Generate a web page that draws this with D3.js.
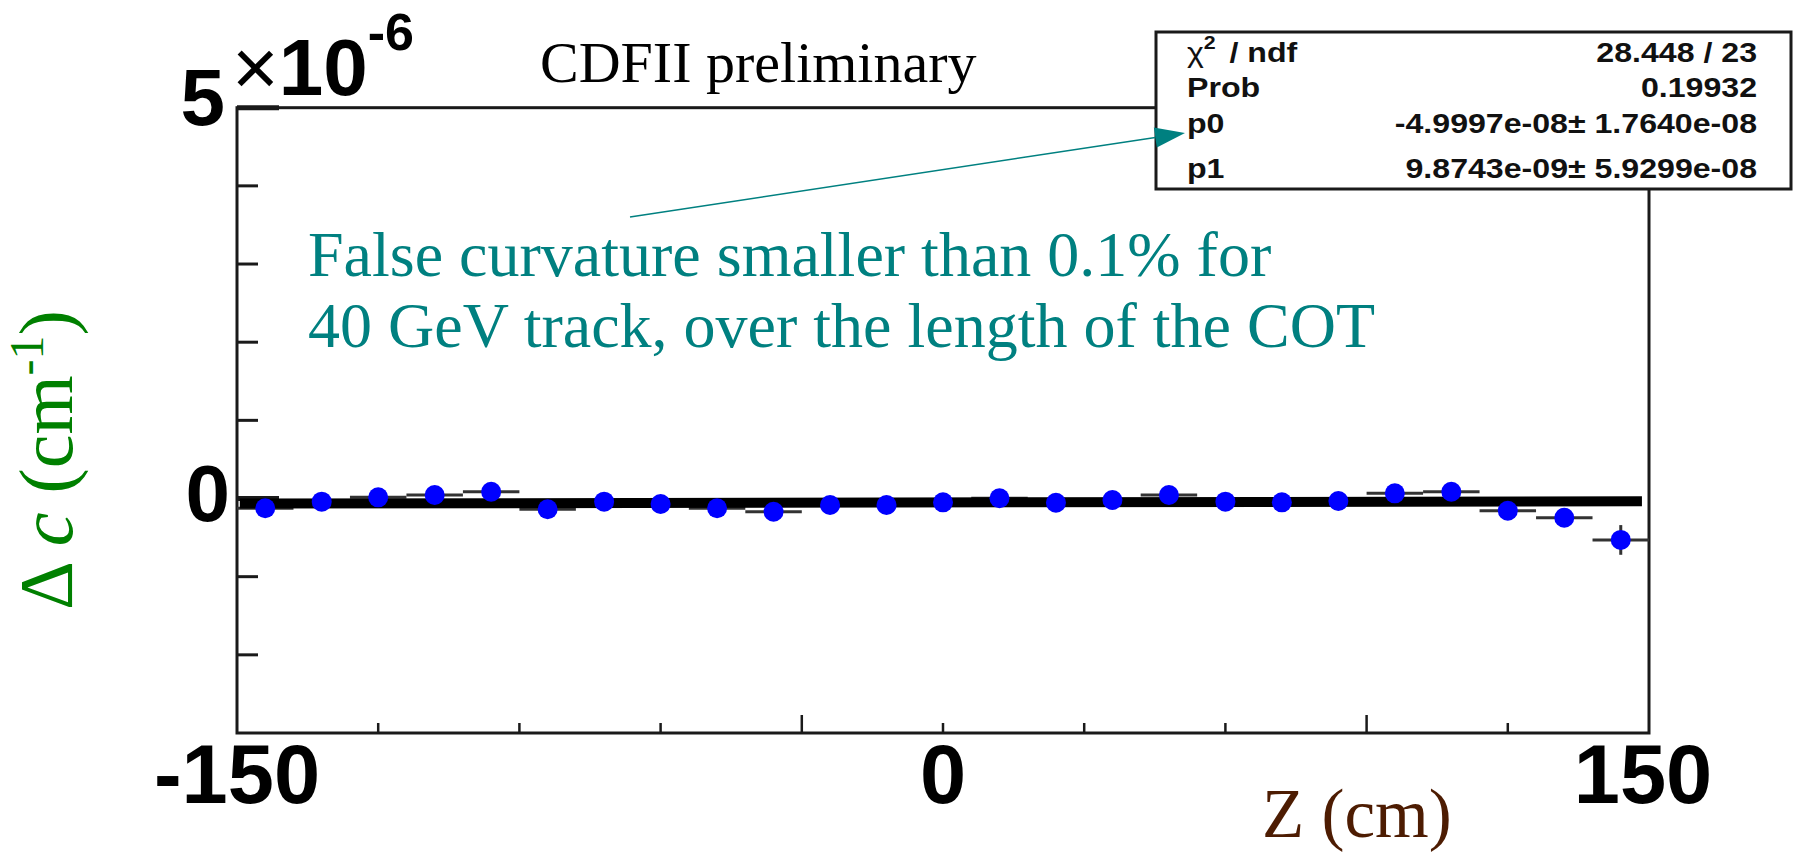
<!DOCTYPE html>
<html><head><meta charset="utf-8">
<script src="https://cdn.jsdelivr.net/npm/d3@7"></script>
<style>body{margin:0;background:#fff}svg{display:block}</style>
</head><body>
<svg id="c" width="1800" height="852"></svg>
<script>
// ---- data (Δc in units of 1e-6 cm^-1) ----
const binCenters = [-144,-132,-120,-108,-96,-84,-72,-60,-48,-36,-24,-12,0,12,24,36,48,60,72,84,96,108,120,132,144];
const deltaC    = [-0.125,-0.04,0.015,0.045,0.087,-0.138,-0.04,-0.07,-0.125,-0.169,-0.083,-0.083,-0.049,0.003,-0.054,-0.019,0.045,-0.04,-0.049,-0.032,0.066,0.087,-0.156,-0.246,-0.53];
const deltaCErr = [0.07,0.06,0.06,0.06,0.06,0.06,0.06,0.06,0.06,0.06,0.06,0.06,0.06,0.06,0.06,0.06,0.06,0.06,0.06,0.06,0.06,0.07,0.08,0.1,0.19];
const binHalfWidth = 6;
const fitP0 = -4.9997e-08, fitP1 = 9.8743e-09;
const xTickValues = [-120,-90,-60,-30,0,30,60,90,120];
const xLongTicks = [-30, 90];
const xLabelValues = [-150, 0, 150];
const yTickValues = [-2,-1,0,1,2,3,4,5];
const yLongTicks = [0, 5];
const statsLabels = ["χ2 / ndf", "Prob", "p0", "p1"];
const statsValues = ["28.448 / 23", "0.19932", "-4.9997e-08± 1.7640e-08", "9.8743e-09± 5.9299e-08"];
const noteLines = ["False curvature smaller than 0.1% for", "40 GeV track, over the length of the COT"];

// ---- layout ----
const svg = d3.select("#c");
const L = 237, R = 1649, T = 107.7, B = 733;
const x = d3.scaleLinear().domain([-150, 150]).range([L, R]);
const y = d3.scaleLinear().domain([-3, 5]).range([B, T]);
const frameColor = "#1a1a1a";

// ticks
const gx = svg.append("g");
gx.selectAll("line").data(xTickValues).join("line")
  .attr("x1", d => x(d)).attr("x2", d => x(d))
  .attr("y1", B).attr("y2", d => B - (xLongTicks.includes(d) ? 18 : 10))
  .attr("stroke", frameColor).attr("stroke-width", 2.5);
const gy = svg.append("g");
gy.selectAll("line").data(yTickValues).join("line")
  .attr("x1", L).attr("x2", d => L + (yLongTicks.includes(d) ? 42 : 21))
  .attr("y1", d => y(d)).attr("y2", d => y(d))
  .attr("stroke", frameColor).attr("stroke-width", d => yLongTicks.includes(d) ? 5 : 3);

// frame
svg.append("rect").attr("x", L).attr("y", T).attr("width", R - L).attr("height", B - T)
  .attr("fill", "none").attr("stroke", frameColor).attr("stroke-width", 3);

// error bars
const eb = svg.append("g").attr("stroke", "#333").attr("stroke-width", 3);
binCenters.forEach((z, i) => {
  eb.append("line").attr("x1", x(z - binHalfWidth)).attr("x2", x(z + binHalfWidth))
    .attr("y1", y(deltaC[i])).attr("y2", y(deltaC[i]));
  eb.append("line").attr("x1", x(z)).attr("x2", x(z))
    .attr("y1", y(deltaC[i] - deltaCErr[i])).attr("y2", y(deltaC[i] + deltaCErr[i]));
});

// fit line (pol1)
const fitLine = d3.line().x(d => x(d)).y(d => y((fitP0 + fitP1 * d / 100) * 1e6));
svg.append("path").datum([-149.4, 148.5]).attr("d", fitLine)
  .attr("stroke", "#000").attr("stroke-width", 10).attr("fill", "none");

// markers
svg.append("g").selectAll("circle").data(binCenters).join("circle")
  .attr("cx", d => x(d)).attr("cy", (d, i) => y(deltaC[i])).attr("r", 10)
  .attr("fill", "#0000ff");

// big axis labels
const bold = "'Liberation Sans', Arial, sans-serif";
svg.append("g").selectAll("text").data(xLabelValues).join("text")
  .attr("x", d => x(d) - (d > 0 ? 6 : 0)).attr("y", 803)
  .attr("text-anchor", "middle").attr("font-family", bold).attr("font-weight", "bold")
  .attr("font-size", 83).attr("fill", "#000").text(d => d);
svg.append("text").attr("x", 230).attr("y", y(0) + 22).attr("text-anchor", "end")
  .attr("font-family", bold).attr("font-weight", "bold").attr("font-size", 80).text("0");
svg.append("text").attr("x", 225).attr("y", 125).attr("text-anchor", "end")
  .attr("font-family", bold).attr("font-weight", "bold").attr("font-size", 80).text("5");
const exp = svg.append("text").attr("x", 232).attr("y", 95)
  .attr("font-family", bold).attr("font-size", 80);
exp.append("tspan").attr("font-weight", "normal").text("×");
exp.append("tspan").attr("font-weight", "bold").text("10");
exp.append("tspan").attr("font-weight", "bold").attr("font-size", 52).attr("dy", -45).text("-6");

// axis titles
const serif = "'Liberation Serif', 'Times New Roman', serif";
svg.append("text").attr("x", 1262).attr("y", 837).attr("font-family", serif)
  .attr("font-size", 69).attr("fill", "#4d1c02").text("Z (cm)");
const yt = svg.append("text").attr("transform", "translate(72,610) rotate(-90)")
  .attr("font-family", serif).attr("font-size", 76).attr("fill", "#008000");
yt.append("tspan").text("Δ ");
yt.append("tspan").attr("font-style", "italic").text("c");
yt.append("tspan").text(" (cm");
yt.append("tspan").attr("font-size", 48).attr("dy", -29).text("-1");
yt.append("tspan").attr("dy", 29).text(")");

// title
svg.append("text").attr("x", 540).attr("y", 82).attr("font-family", serif)
  .attr("font-size", 58).attr("fill", "#000").text("CDFII preliminary");

// teal note
const teal = "#008080";
svg.append("g").selectAll("text").data(noteLines).join("text")
  .attr("x", 308).attr("y", (d, i) => 276 + i * 70.7)
  .attr("font-family", serif).attr("font-size", 64).attr("fill", teal).text(d => d);

// stats box
svg.append("rect").attr("x", 1156).attr("y", 32).attr("width", 1791 - 1156).attr("height", 189 - 32)
  .attr("fill", "#fff").attr("stroke", "#1a1a1a").attr("stroke-width", 3);
const rowBase = [62, 97, 133, 178];
const sx = 1.19;
statsLabels.forEach((lab, i) => {
  const t = svg.append("text").attr("transform", `translate(1187,${rowBase[i]}) scale(${sx},1)`)
    .attr("font-family", bold).attr("font-weight", "bold").attr("font-size", 27).attr("fill", "#111");
  if (i === 0) {
    t.append("tspan").attr("font-weight", "normal").text("χ");
    t.append("tspan").attr("font-size", 18).attr("dy", -13).text("2");
    t.append("tspan").attr("dy", 13).attr("dx", 4).text(" / ndf");
  } else t.text(lab);
  svg.append("text").attr("transform", `translate(1757,${rowBase[i]}) scale(${sx},1)`)
    .attr("text-anchor", "end").attr("font-family", bold).attr("font-weight", "bold")
    .attr("font-size", 27).attr("fill", "#111").text(statsValues[i]);
});

// arrow from note to p0
const ax0 = 630, ay0 = 217, ax1 = 1185, ay1 = 133;
const ang = Math.atan2(ay1 - ay0, ax1 - ax0);
const hl = 30, hw = 10;
const bx = ax1 - hl * Math.cos(ang), by = ay1 - hl * Math.sin(ang);
svg.append("line").attr("x1", ax0).attr("y1", ay0).attr("x2", bx).attr("y2", by)
  .attr("stroke", teal).attr("stroke-width", 1.5);
svg.append("path").attr("d", d3.line()([
  [ax1, ay1],
  [bx + hw * Math.sin(ang), by - hw * Math.cos(ang)],
  [bx - hw * Math.sin(ang), by + hw * Math.cos(ang)]
]) + "Z").attr("fill", teal);
</script>
</body></html>
